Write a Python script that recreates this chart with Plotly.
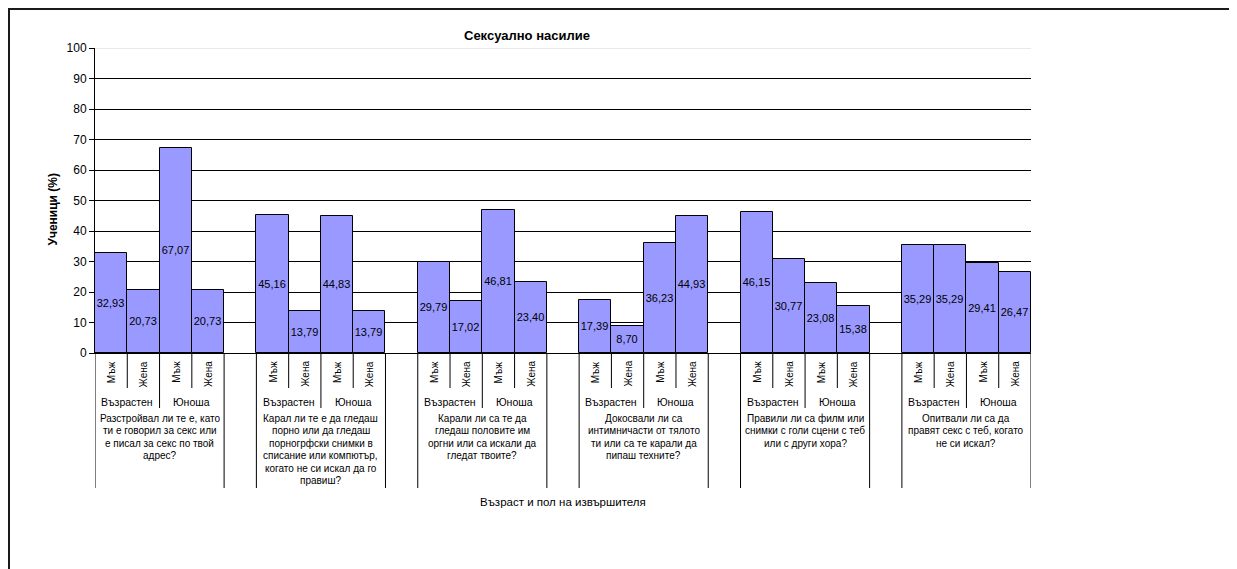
import plotly.graph_objects as go

# ---- data ----
sex_labels = ["Мъж", "Жена", "Мъж", "Жена"]
age_labels = ["Възрастен", "Юноша"]
questions = [
    "Разстройвал ли те е, като<br>ти е говорил за секс или<br>е писал за секс по твой<br>адрес?",
    "Карал ли те е да гледаш<br>порно или да гледаш<br>порногрфски снимки в<br>списание или компютър,<br>когато не си искал да го<br>правиш?",
    "Карали ли са те да<br>гледаш половите им<br>оргни или са искали да<br>гледат твоите?",
    "Докосвали ли са<br>интимничасти от тялото<br>ти или са те карали да<br>пипаш техните?",
    "Правили ли са филм или<br>снимки с голи сцени с теб<br>или с други хора?",
    "Опитвали ли са да<br>правят секс с теб, когато<br>не си искал?",
]
values = [
    [32.93, 20.73, 67.07, 20.73],
    [45.16, 13.79, 44.83, 13.79],
    [29.79, 17.02, 46.81, 23.40],
    [17.39, 8.70, 36.23, 44.93],
    [46.15, 30.77, 23.08, 15.38],
    [35.29, 35.29, 29.41, 26.47],
]
title = "Сексуално насилие"
y_title = "Ученици (%)"
x_title = "Възраст и пол на извършителя"
y_ticks = list(range(0, 101, 10))

FONT = "Liberation Sans, Arial, sans-serif"

# page offset (body margin) compensation
OFF = 8
W, H = 1237 - OFF, 569 - OFF
L, R, T, B = 95 - OFF, 1031 - OFF, 48 - OFF, 353 - OFF
PW, PH = R - L, B - T


def py(p):
    """reference pixel y -> paper y"""
    return (B - (p - OFF)) / PH


def pxp(p):
    """reference pixel x -> paper x"""
    return ((p - OFF) - L) / PW


STEP = 5  # 4 bars + 1 blank category per group
xs, ys, texts = [], [], []
for g, grp in enumerate(values):
    for i, v in enumerate(grp):
        xs.append(g * STEP + i)
        ys.append(v)
        texts.append(f"{v:.2f}".replace(".", ","))

fig = go.Figure()
fig.add_trace(go.Bar(
    x=xs, y=ys, width=1.0,
    marker=dict(color="#9999FF", line=dict(color="#000000", width=1)),
    text=texts, textposition="inside", insidetextanchor="middle", textangle=0,
    textfont=dict(family=FONT, size=11, color="#000000"),
    constraintext="none", cliponaxis=False, hoverinfo="skip",
))

n_cat = len(values) * STEP - 1
shapes = []
annotations = []

# separators under the axis
y_short, y_mid, y_long = py(388), py(408), py(488)
boundaries = set()
for g in range(len(values)):
    base = g * STEP
    for b in (base - 0.5, base + 3.5):
        boundaries.add(b)
    for b in (base + 0.5, base + 2.5):
        shapes.append(dict(type="line", xref="x", yref="paper", x0=b, x1=b,
                           y0=0, y1=y_short, line=dict(color="#000", width=1)))
    shapes.append(dict(type="line", xref="x", yref="paper", x0=base + 1.5, x1=base + 1.5,
                       y0=0, y1=y_mid, line=dict(color="#000", width=1)))
for b in sorted(boundaries):
    shapes.append(dict(type="line", xref="x", yref="paper", x0=b, x1=b,
                       y0=0, y1=y_long, line=dict(color="#000", width=1)))

# labels
for g, q in enumerate(questions):
    base = g * STEP
    for i, s in enumerate(sex_labels):
        annotations.append(dict(x=base + i, y=py(359), xref="x", yref="paper",
                                text=s, showarrow=False, textangle=-90,
                                xanchor="center", yanchor="top",
                                font=dict(family=FONT, size=10, color="#000")))
    for j, a in enumerate(age_labels):
        annotations.append(dict(x=base + 0.5 + 2 * j, y=py(401.5), xref="x", yref="paper",
                                text=a, showarrow=False, xanchor="center", yanchor="middle",
                                font=dict(family=FONT, size=10.5, color="#000")))
    for k, line in enumerate(q.split("<br>")):
        annotations.append(dict(x=base + 1.5, y=py(418.5 + k * 12.4), xref="x", yref="paper",
                                text=line, showarrow=False, xanchor="center", yanchor="middle",
                                font=dict(family=FONT, size=10, color="#000")))

annotations.append(dict(x=pxp(527), y=py(35.5), xref="paper", yref="paper", text=f"<b>{title}</b>",
                        showarrow=False, xanchor="center", yanchor="middle",
                        font=dict(family=FONT, size=13, color="#000")))
annotations.append(dict(x=0.5, y=py(501.7), xref="paper", yref="paper", text=x_title,
                        showarrow=False, xanchor="center", yanchor="middle",
                        font=dict(family=FONT, size=11.5, color="#000")))
annotations.append(dict(x=pxp(52), y=py(209.5), xref="paper", yref="paper", text=f"<b>{y_title}</b>",
                        showarrow=False, textangle=-90, xanchor="center", yanchor="middle",
                        font=dict(family=FONT, size=12, color="#000")))

# light top gridline at 100
shapes.append(dict(type="line", xref="paper", yref="y", x0=0, x1=1, y0=100, y1=100,
                   line=dict(color="#d4d4d4", width=1), layer="above"))
# outer chart border (top & left visible)
shapes.append(dict(type="rect", xref="paper", yref="paper",
                   x0=pxp(9), x1=pxp(1250), y0=py(590), y1=py(9),
                   line=dict(color="#1a1a1a", width=2), fillcolor="rgba(0,0,0,0)", layer="below"))

fig.update_layout(
    width=W, height=H,
    margin=dict(l=L, r=W - R, t=T, b=H - B, pad=0),
    paper_bgcolor="white", plot_bgcolor="white",
    showlegend=False, bargap=0,
    shapes=shapes, annotations=annotations,
    font=dict(family=FONT, color="#000"),
)
fig.update_xaxes(range=[-0.5, n_cat - 0.5], showticklabels=False, ticks="",
                 showgrid=False, zeroline=False, showline=True, linecolor="#000", linewidth=1)
fig.update_yaxes(range=[0, 100], tickvals=y_ticks, ticks="outside", ticklen=5,
                 tickcolor="#000", showgrid=True, gridcolor="#000", gridwidth=1,
                 zeroline=False, showline=True, linecolor="#000", linewidth=1,
                 tickfont=dict(family=FONT, size=12, color="#000"))

fig.write_html("out.html")
